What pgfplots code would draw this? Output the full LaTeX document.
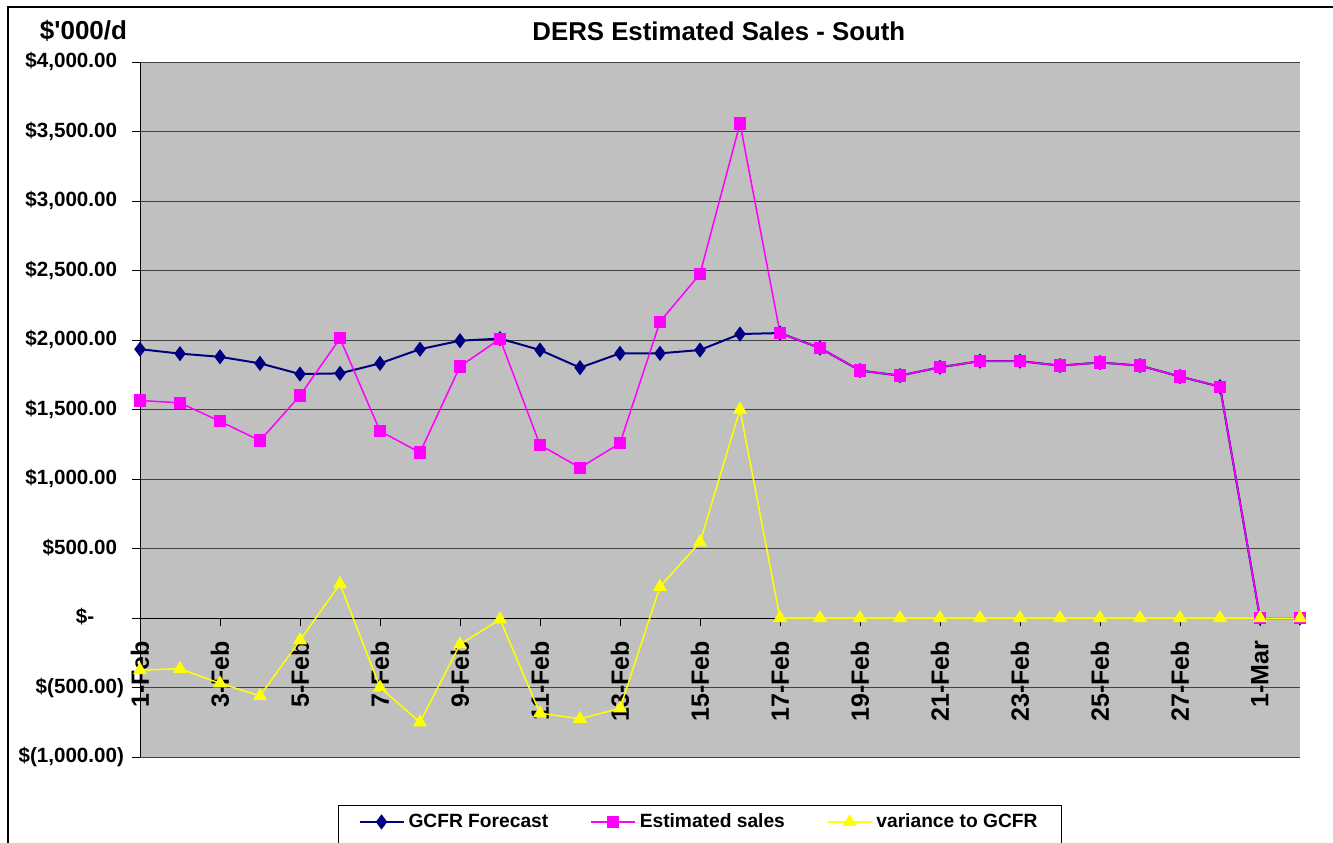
\documentclass[border=0pt]{standalone}
\usepackage{pgfplots}
\pgfplotsset{compat=1.18}
\usepackage{pgfplotstable}
\usepackage{fontspec}
\setmainfont{Liberation Sans}

\definecolor{gcfr}{RGB}{0,0,128}
\definecolor{est}{RGB}{255,0,255}
\definecolor{vari}{RGB}{255,255,0}
\definecolor{plotbg}{RGB}{192,192,192}

% day 0 = 1-Feb ... day 29 = 2-Mar
\pgfplotstableread{
day fcst est var
0  1934 1565 -375
1  1902 1548 -365
2  1879 1415 -470
3  1832 1276 -560
4  1755 1600 -160
5  1760 2012 245
6  1832 1345 -500
7  1934 1190 -750
8  1995 1810 -190
9  2010 2008 -10
10 1928 1245 -685
11 1801 1081 -725
12 1904 1257 -650
13 1904 2132 225
14 1928 2475 545
15 2043 3558 1500
16 2050 2050 0
17 1942 1942 0
18 1780 1780 0
19 1744 1744 0
20 1804 1804 0
21 1848 1848 0
22 1848 1848 0
23 1816 1816 0
24 1838 1838 0
25 1816 1816 0
26 1737 1737 0
27 1664 1664 0
28 0    0    0
29 0    0    0
}\sales

\begin{document}
\begin{tikzpicture}
\path[use as bounding box] (0,0) rectangle (666.5pt,421pt);
\draw[line width=0.7pt] (4pt,-5pt) -- (4pt,417.5pt) -- (680pt,417.5pt);
\begin{axis}[
  at={(70pt,42.5pt)}, anchor=south west,
  scale only axis, width=580pt, height=347.5pt,
  xmin=0, xmax=29, ymin=-1000, ymax=4000,
  clip=false,
  axis background/.style={fill=plotbg},
  axis x line*=middle, axis y line*=left,
  hide obscured x ticks=false,
  axis line style={draw=black, line width=0.5pt},
  ymajorgrids, grid style={draw=black!75, line width=0.5pt},
  tick align=outside, major tick length=4pt,
  tick style={draw=black, line width=0.5pt},
  xtick={0,2,...,28},
  xticklabels={1-Feb,3-Feb,5-Feb,7-Feb,9-Feb,11-Feb,13-Feb,15-Feb,17-Feb,19-Feb,21-Feb,23-Feb,25-Feb,27-Feb,1-Mar},
  x tick label style={rotate=90, anchor=east, xshift=-4pt, font=\bfseries\fontsize{12.5}{14}\selectfont},
  ytick={-1000,-500,...,4000},
  yticklabels={{\$(1,000.00)},{\$(500.00)},{\$-\phantom{00)}},{\$500.00\phantom{)}},{\$1,000.00\phantom{)}},{\$1,500.00\phantom{)}},{\$2,000.00\phantom{)}},{\$2,500.00\phantom{)}},{\$3,000.00\phantom{)}},{\$3,500.00\phantom{)}},{\$4,000.00\phantom{)}}},
  y tick label style={xshift=-0.5pt, font=\bfseries\fontsize{10.3}{12}\selectfont},
  title={DERS Estimated Sales - South},
  every axis title/.style={at={(axis description cs:0.499,1.0446)}, anchor=center, font=\bfseries\fontsize{12.9}{15}\selectfont},
  ylabel={\$\textquotesingle000/d},
  ylabel style={at={(axis description cs:-0.0487,1.0446)}, rotate=-90, anchor=center, font=\bfseries\fontsize{13}{15}\selectfont},
  legend columns=3,
  legend image code/.code={\draw[mark repeat=2,mark phase=2,#1] plot coordinates {(0pt,0pt)(11pt,0pt)(22pt,0pt)};},
  legend style={at={(axis description cs:0.1707,-0.069)}, anchor=north west,
    draw=black, line width=0.5pt, fill=white, inner xsep=10pt, inner ysep=2pt,
    font=\bfseries\fontsize{9.6}{11}\selectfont,
    /tikz/every even column/.append style={column sep=19pt}},
]
\addplot[color=gcfr, line width=1pt, mark=diamond*, mark size=3pt, mark options={solid, fill=gcfr}]
  table[x=day, y=fcst]{\sales};
\addlegendentry{GCFR Forecast}
\addplot[color=est, line width=0.75pt, mark=square*, mark size=2.7pt, mark options={solid, fill=est}]
  table[x=day, y=est]{\sales};
\addlegendentry{Estimated sales}
\addplot[color=vari, line width=0.75pt, mark=triangle*, mark size=3.3pt, mark options={solid, fill=vari}]
  table[x=day, y=var]{\sales};
\addlegendentry{variance to GCFR}
% empty second legend row: the legend box runs on past the lower edge of the picture
\addlegendimage{empty legend}\addlegendentry{\rule{0pt}{12pt}}
\addlegendimage{empty legend}\addlegendentry{}
\addlegendimage{empty legend}\addlegendentry{}
\end{axis}
\end{tikzpicture}
\end{document}
